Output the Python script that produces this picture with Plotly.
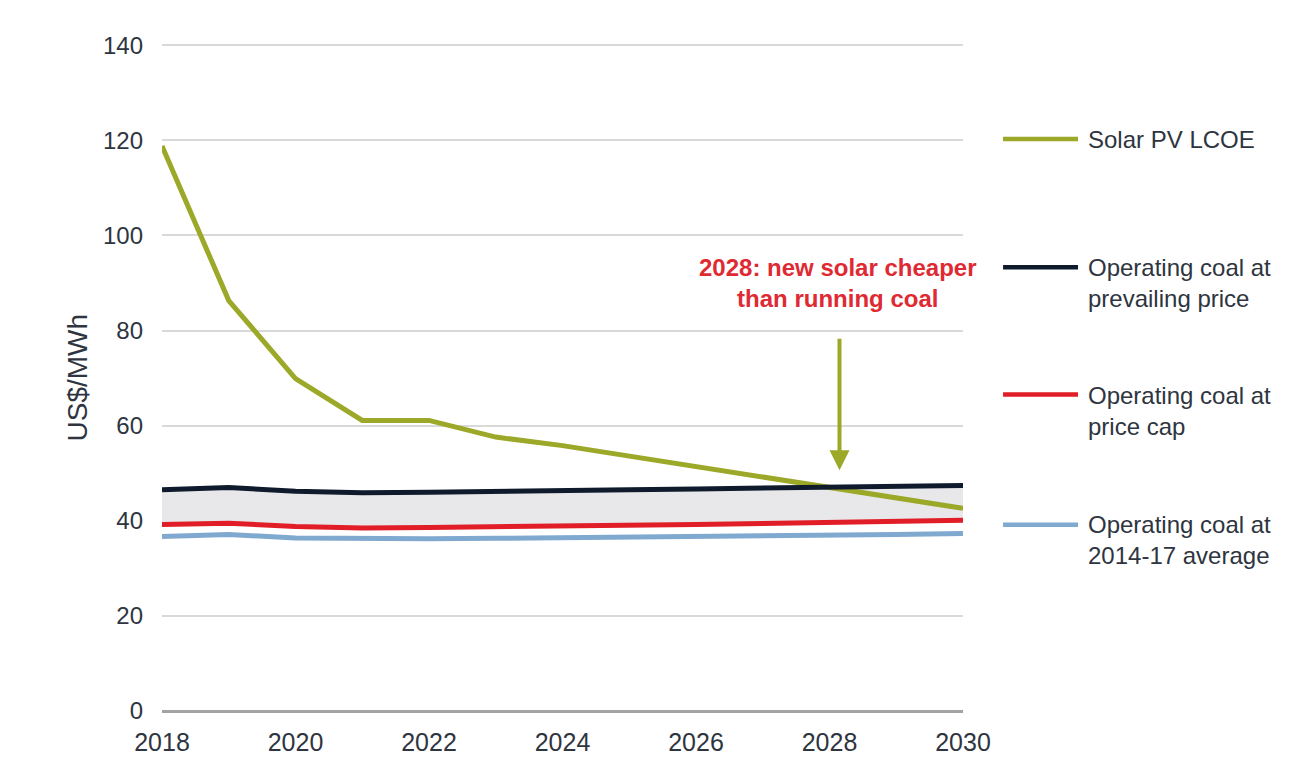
import plotly.graph_objects as go

# Years on the horizontal axis
years = list(range(2018, 2031))

# US$/MWh by year
solar_pv_lcoe = [118.8, 86.3, 69.9, 61.1, 61.1, 57.6, 55.8, 53.6, 51.4, 49.2, 47.0, 44.8, 42.6]
coal_prevailing = [46.5, 47.0, 46.2, 45.9, 46.0, 46.1, 46.3, 46.5, 46.7, 46.9, 47.0, 47.2, 47.4]
coal_price_cap = [39.2, 39.5, 38.8, 38.5, 38.6, 38.7, 38.8, 39.0, 39.2, 39.4, 39.6, 39.9, 40.1]
coal_2014_17_avg = [36.7, 37.1, 36.4, 36.2, 36.2, 36.3, 36.4, 36.5, 36.7, 36.8, 37.0, 37.1, 37.3]

series_names = [
    "Solar PV LCOE",
    "Operating coal at<br>prevailing price",
    "Operating coal at<br>price cap",
    "Operating coal at<br>2014-17 average",
]
series_colors = ["#9ba828", "#0f1b2d", "#e11d27", "#80a9d0"]

x_tick_years = [2018, 2020, 2022, 2024, 2026, 2028, 2030]
y_ticks = [0, 20, 40, 60, 80, 100, 120, 140]

callout_year = 2028
callout_text = "2028: new solar cheaper<br>than running coal"

FONT = "Liberation Sans, Arial, sans-serif"
TEXT_COLOR = "#2e3540"

fig = go.Figure()

# Grey band between the price-cap and prevailing-price coal costs
fig.add_trace(go.Scatter(x=years, y=coal_price_cap, mode="lines",
                         line=dict(width=0), hoverinfo="skip", showlegend=False))
fig.add_trace(go.Scatter(x=years, y=coal_prevailing, mode="lines",
                         line=dict(width=0), fill="tonexty", fillcolor="#e8e8ea",
                         hoverinfo="skip", showlegend=False))

# Series lines (drawn bottom-up so the dark line sits on top)
draw_order = [3, 2, 0, 1]
all_series = [solar_pv_lcoe, coal_prevailing, coal_price_cap, coal_2014_17_avg]
for i in draw_order:
    fig.add_trace(go.Scatter(
        x=years, y=all_series[i], mode="lines",
        name=series_names[i].replace("<br>", " "),
        line=dict(color=series_colors[i], width=5),
        showlegend=False,
    ))

# Side legend: line sample + label for each series
legend_sample_y = [0.8574, 0.6652, 0.4745, 0.2793]
legend_text_y = [0.8574, 0.6411, 0.4505, 0.2568]
shapes = []
annotations = []
for name, color, sy, ty in zip(series_names, series_colors, legend_sample_y, legend_text_y):
    shapes.append(dict(type="line", xref="paper", yref="paper",
                       x0=1.050, x1=1.1436, y0=sy, y1=sy,
                       line=dict(color=color, width=4.5)))
    annotations.append(dict(xref="paper", yref="paper", x=1.1535, y=ty,
                            xanchor="left", yanchor="middle", align="left",
                            text=name, showarrow=False,
                            font=dict(family=FONT, size=24, color=TEXT_COLOR)))

# Callout text and arrow pointing at the crossover year
annotations.append(dict(xref="x", yref="y", x=callout_year, y=90.0,
                        xshift=8, xanchor="center", yanchor="middle",
                        text="<b>" + callout_text + "</b>", showarrow=False,
                        font=dict(family=FONT, size=24, color="#df2a33")))
annotations.append(dict(xref="x", yref="y", x=callout_year, y=50.6,
                        axref="x", ayref="y", ax=callout_year, ay=78.6,
                        xshift=10, text="", showarrow=True,
                        arrowhead=2, arrowsize=1, arrowwidth=4,
                        arrowcolor="#9ba828"))

# Y-axis title
annotations.append(dict(xref="paper", yref="paper", x=0, y=0.5,
                        xshift=-85, xanchor="center", yanchor="middle",
                        text="US$/MWh", textangle=-90, showarrow=False,
                        font=dict(family=FONT, size=28, color=TEXT_COLOR)))

fig.update_layout(
    width=1311, height=778,
    margin=dict(l=162, r=348, t=44, b=67),
    paper_bgcolor="white", plot_bgcolor="white",
    font=dict(family=FONT, color=TEXT_COLOR),
    shapes=shapes, annotations=annotations,
    showlegend=False,
)
fig.update_xaxes(
    range=[2018, 2030], tickvals=x_tick_years,
    ticktext=[str(v) for v in x_tick_years],
    showgrid=False, zeroline=False, showline=False, ticks="",
    tickfont=dict(family=FONT, size=25, color=TEXT_COLOR),
    ticklabelstandoff=14,
)
fig.update_yaxes(
    range=[0, 140.25], tickvals=y_ticks,
    showgrid=True, gridcolor="#d9d9d9", gridwidth=2,
    zeroline=True, zerolinecolor="#a3a3a3", zerolinewidth=3,
    showline=False, ticks="",
    tickfont=dict(family=FONT, size=24, color=TEXT_COLOR),
    ticklabelstandoff=18,
)

fig.write_html("out.html")
